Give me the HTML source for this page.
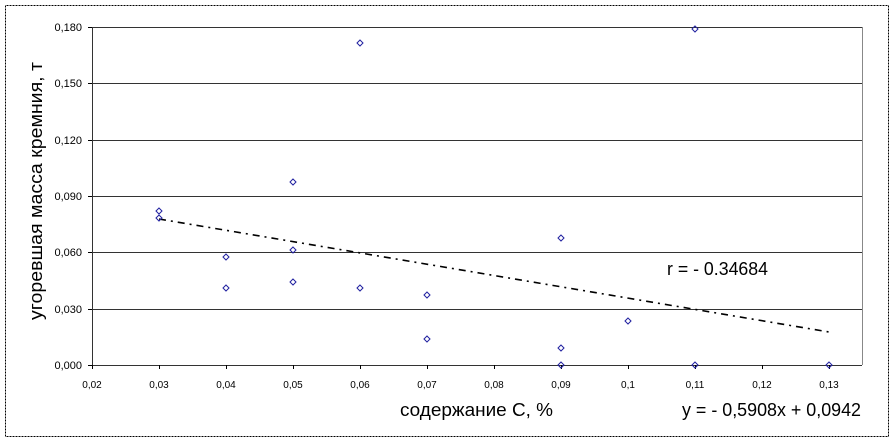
<!DOCTYPE html>
<html><head><meta charset="utf-8"><style>
html,body{margin:0;padding:0;background:#fff;}
svg{display:block;font-family:"Liberation Sans",Arial,sans-serif;}
</style></head><body>
<svg width="894" height="442" viewBox="0 0 894 442" xmlns="http://www.w3.org/2000/svg">
<rect x="5.5" y="5.5" width="883" height="431" fill="#fff" stroke="#000" stroke-dasharray="1,0.5"/>
<g stroke="#333" stroke-width="1">
<line x1="92" y1="27.5" x2="862" y2="27.5"/>
<line x1="92" y1="83.5" x2="862" y2="83.5"/>
<line x1="92" y1="140.5" x2="862" y2="140.5"/>
<line x1="92" y1="196.5" x2="862" y2="196.5"/>
<line x1="92" y1="252.5" x2="862" y2="252.5"/>
<line x1="92" y1="309.5" x2="862" y2="309.5"/>
<line x1="92" y1="365.5" x2="862" y2="365.5"/>
<line x1="92.5" y1="27" x2="92.5" y2="365"/>
<line x1="862.5" y1="27" x2="862.5" y2="365" stroke="#888"/>
</g>
<g stroke="#000">
<line x1="88" y1="27.5" x2="92" y2="27.5"/><line x1="88" y1="83.5" x2="92" y2="83.5"/><line x1="88" y1="140.5" x2="92" y2="140.5"/><line x1="88" y1="196.5" x2="92" y2="196.5"/><line x1="88" y1="252.5" x2="92" y2="252.5"/><line x1="88" y1="309.5" x2="92" y2="309.5"/><line x1="88" y1="365.5" x2="92" y2="365.5"/>
<line x1="92.5" y1="365" x2="92.5" y2="369"/><line x1="159.5" y1="365" x2="159.5" y2="369"/><line x1="226.5" y1="365" x2="226.5" y2="369"/><line x1="293.5" y1="365" x2="293.5" y2="369"/><line x1="360.5" y1="365" x2="360.5" y2="369"/><line x1="427.5" y1="365" x2="427.5" y2="369"/><line x1="494.5" y1="365" x2="494.5" y2="369"/><line x1="561.5" y1="365" x2="561.5" y2="369"/><line x1="628.5" y1="365" x2="628.5" y2="369"/><line x1="695.5" y1="365" x2="695.5" y2="369"/><line x1="762.5" y1="365" x2="762.5" y2="369"/><line x1="829.5" y1="365" x2="829.5" y2="369"/>
</g>
<g font-size="11" text-anchor="end" fill="#000">
<text x="82" y="31">0,180</text><text x="82" y="87">0,150</text><text x="82" y="144">0,120</text><text x="82" y="200">0,090</text><text x="82" y="256">0,060</text><text x="82" y="313">0,030</text><text x="82" y="369">0,000</text>
</g>
<g font-size="10" text-anchor="middle" fill="#000">
<text x="92" y="388">0,02</text><text x="159" y="388">0,03</text><text x="226" y="388">0,04</text><text x="293" y="388">0,05</text><text x="360" y="388">0,06</text><text x="427" y="388">0,07</text><text x="494" y="388">0,08</text><text x="561" y="388">0,09</text><text x="628" y="388">0,1</text><text x="695" y="388">0,11</text><text x="762" y="388">0,12</text><text x="829" y="388">0,13</text>
</g>
<text transform="translate(42,191) rotate(-90)" font-size="18" text-anchor="middle" textLength="258" lengthAdjust="spacingAndGlyphs">угоревшая масса кремния, т</text>
<text x="400" y="416" font-size="18" textLength="153" lengthAdjust="spacingAndGlyphs">содержание С, %</text>
<text x="682" y="416" font-size="18" textLength="179" lengthAdjust="spacingAndGlyphs">y = - 0,5908x + 0,0942</text>
<text x="667" y="275" font-size="18" textLength="101" lengthAdjust="spacingAndGlyphs">r = - 0.34684</text>
<line x1="159" y1="219" x2="829" y2="332" stroke="#000" stroke-width="1.6" stroke-dasharray="7,5,2,5"/>
<g fill="none" stroke="#2020a0" stroke-width="1">
<path d="M159,208l3,3l-3,3l-3,-3z M159,215l3,3l-3,3l-3,-3z M226,254l3,3l-3,3l-3,-3z M226,285l3,3l-3,3l-3,-3z M293,179l3,3l-3,3l-3,-3z M293,247l3,3l-3,3l-3,-3z M293,279l3,3l-3,3l-3,-3z M360,40l3,3l-3,3l-3,-3z M360,285l3,3l-3,3l-3,-3z M427,292l3,3l-3,3l-3,-3z M427,336l3,3l-3,3l-3,-3z M561,235l3,3l-3,3l-3,-3z M561,345l3,3l-3,3l-3,-3z M561,362l3,3l-3,3l-3,-3z M628,318l3,3l-3,3l-3,-3z M695,26l3,3l-3,3l-3,-3z M695,362l3,3l-3,3l-3,-3z M829,362l3,3l-3,3l-3,-3z"/>
</g>
</svg>
</body></html>
